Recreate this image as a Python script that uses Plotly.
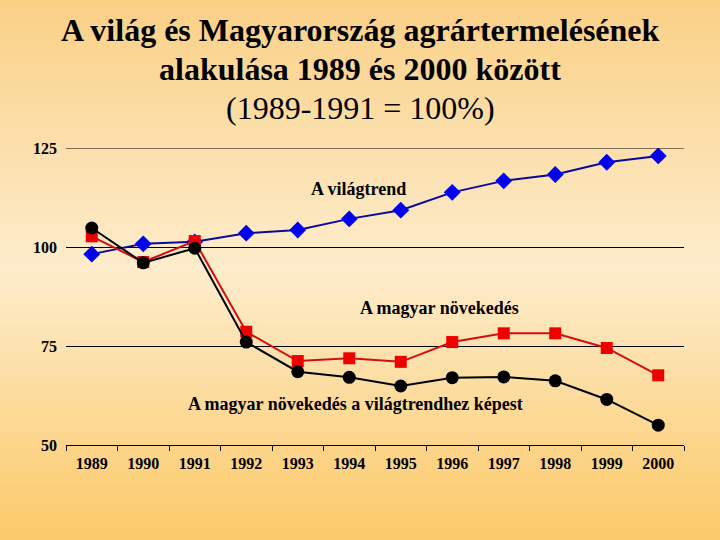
import plotly.graph_objects as go

years = ["1989", "1990", "1991", "1992", "1993", "1994", "1995", "1996", "1997", "1998", "1999", "2000"]
vilag = [98.2, 100.8, 101.3, 103.5, 104.3, 107.1, 109.3, 113.8, 116.7, 118.3, 121.4, 123.0]
magyar = [102.7, 96.2, 101.5, 78.6, 71.2, 71.9, 71.0, 76.0, 78.2, 78.2, 74.5, 67.6]
magyar_rel = [104.8, 96.0, 99.7, 76.0, 68.5, 67.1, 64.9, 67.0, 67.2, 66.2, 61.5, 55.0]

FONT = "'Liberation Serif', 'DejaVu Serif', serif"

fig = go.Figure()
fig.add_trace(go.Scatter(x=years, y=vilag, mode="lines+markers", name="A világtrend",
                         line=dict(color="#0a0a9a", width=2),
                         marker=dict(symbol="diamond", size=13, color="#0000ee")))
fig.add_trace(go.Scatter(x=years, y=magyar, mode="lines+markers", name="A magyar növekedés",
                         line=dict(color="#d01010", width=2),
                         marker=dict(symbol="square", size=12, color="#ee0000")))
fig.add_trace(go.Scatter(x=years, y=magyar_rel, mode="lines+markers",
                         name="A magyar növekedés a világtrendhez képest",
                         line=dict(color="black", width=2),
                         marker=dict(symbol="circle", size=13, color="black")))

# background gradient (light band in the middle, orange at top and bottom)
def mix(c1, c2, t):
    return "rgb(%d,%d,%d)" % tuple(round(a + (b - a) * t) for a, b in zip(c1, c2))

top, mid, bot = (250, 208, 134), (253, 236, 204), (251, 201, 104)
shapes = []
n = 60
for i in range(n):
    py0, py1 = 540 * i / n, 540 * (i + 1) / n
    c = (py0 + py1) / 2
    col = mix(top, mid, c / 270) if c < 270 else mix(mid, bot, (c - 270) / 270)
    shapes.append(dict(type="rect", xref="paper", yref="paper", layer="below",
                       x0=-0.2, x1=1.2, y0=(445 - py1) / 297, y1=(445 - py0) / 297 + 0.002,
                       fillcolor=col, line=dict(width=0)))
# top gridline at 125
shapes.append(dict(type="line", xref="paper", yref="y", x0=0, x1=1, y0=125, y1=125,
                   line=dict(color="black", width=1)))

annots = [
    dict(text="<b>A világ és Magyarország agrártermelésének</b>", y=30),
    dict(text="<b>alakulása 1989 és 2000 között</b>", y=69),
    dict(text="(1989-1991 = 100%)", y=108),
]
annotations = [dict(text=a["text"], xref="paper", yref="paper", x=(360 - 66) / 618,
                    y=(445 - a["y"]) / 297, showarrow=False, xanchor="center", yanchor="middle",
                    font=dict(family=FONT, size=32, color="black")) for a in annots]
for txt, x, y in [("A világtrend", 5.18, 114.6),
                  ("A magyar növekedés", 6.76, 84.6),
                  ("A magyar növekedés a világtrendhez képest", 5.12, 60.4)]:
    annotations.append(dict(text="<b>" + txt + "</b>", x=x, y=y, showarrow=False,
                            font=dict(family=FONT, size=18, color="black")))

fig.update_layout(
    width=720, height=540,
    margin=dict(l=66, r=36, t=148, b=95),
    paper_bgcolor="#fde4b0", plot_bgcolor="rgba(0,0,0,0)",
    showlegend=False, shapes=shapes, annotations=annotations,
    font=dict(family=FONT, color="black"),
    xaxis=dict(type="category", range=[-0.5, 11.5], tickson="boundaries", ticks="outside",
               ticklen=5, tickcolor="black", showline=True, linecolor="black", showgrid=False,
               tickfont=dict(family=FONT, size=16, color="black", weight="bold"),
               ticklabelstandoff=4, automargin=False),
    yaxis=dict(range=[50, 125], tickvals=[50, 75, 100, 125], showgrid=True,
               gridcolor="black", gridwidth=1, zeroline=False, showline=False,
               ticks="", tickfont=dict(family=FONT, size=16, color="black", weight="bold"),
               ticklabelstandoff=8, automargin=False),
)

fig.write_html("out.html", config={"displayModeBar": False},
               post_script="document.body.style.margin='0';")
